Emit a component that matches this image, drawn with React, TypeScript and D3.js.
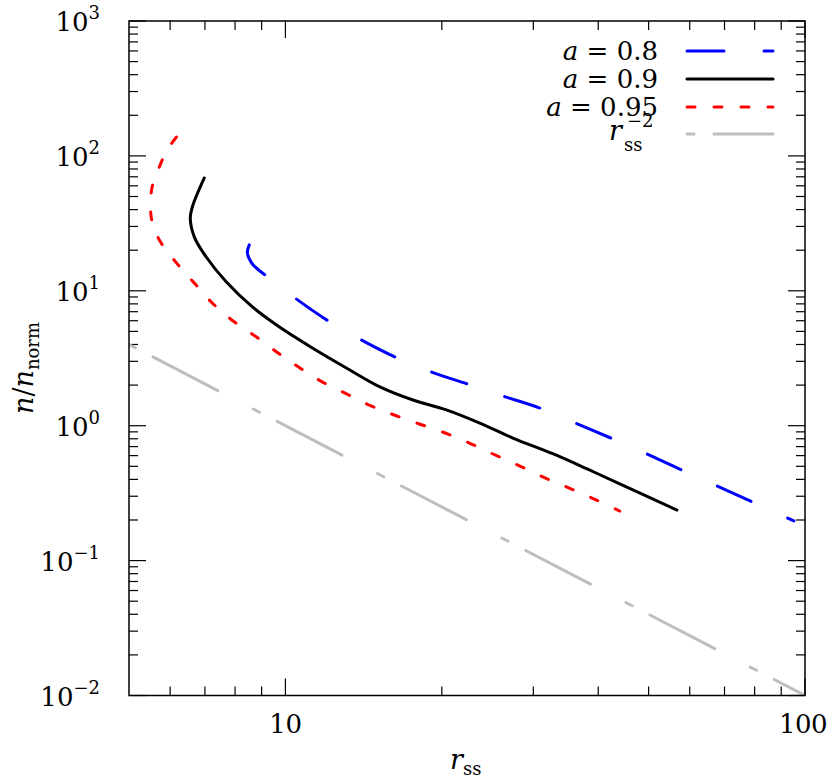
import * as d3 from "d3";
import React from "react";

// a = 0.8
const blueR = [8.52, 8.45, 8.64, 9.23, 10.5, 12.1, 14.0, 16.4, 19.1, 22.4, 26.2, 30.9, 36.1, 42.3, 49.2, 57.4, 67.1, 78.4, 95.2];
const blueN = [21.9, 19.1, 15.8, 12.7, 8.69, 5.97, 4.32, 3.18, 2.5, 2.04, 1.66, 1.35, 1.05, 0.81, 0.627, 0.477, 0.363, 0.277, 0.197];

// a = 0.9
const blackR = [6.98, 6.62, 6.56, 6.68, 7.04, 7.7, 8.64, 9.74, 11.27, 13.1, 15.2, 17.6, 20.4, 23.6, 27.4, 32.7, 38.0, 44.0, 56.7];
const blackN = [68.6, 41.8, 34.6, 25.0, 17.8, 11.6, 7.59, 5.39, 3.77, 2.68, 1.94, 1.55, 1.31, 1.05, 0.81, 0.62, 0.48, 0.37, 0.237];

// a = 0.95
const redR = [6.17, 5.92, 5.72, 5.54, 5.5, 5.54, 5.72, 6.17, 6.68, 7.23, 7.98, 8.8, 9.74, 10.6, 11.7, 13.0, 14.5, 16.2, 18.1, 20.3, 22.6, 25.1, 28.0, 31.3, 34.8, 38.9, 44.0];
const redN = [138, 110.6, 82.8, 58.8, 41.8, 32.4, 23.8, 16.1, 11.4, 8.12, 5.87, 4.54, 3.4, 2.72, 2.14, 1.75, 1.42, 1.2, 1.03, 0.883, 0.744, 0.617, 0.511, 0.417, 0.351, 0.291, 0.233];

// r_ss^-2 reference line
const grayR = [5, 100];
const grayN = [4, 0.01];

const xMajor = [10, 100];
const xMinor = [6, 7, 8, 9, 20, 30, 40, 50, 60, 70, 80, 90];
const yExponents = [-2, -1, 0, 1, 2, 3];

const width = 830;
const height = 779;
const marginLeft = 129;
const marginRight = 25;
const marginTop = 21;
const marginBottom = 83.5;

const font = "DejaVu Serif";

export default function App() {
  const x = d3.scaleLog().domain([5, 100]).range([marginLeft, width - marginRight]);
  const y = d3.scaleLog().domain([0.01, 1000]).range([height - marginBottom, marginTop]);
  const [x0, x1] = x.range();
  const [y0, y1] = y.range();

  const line = d3
    .line<[number, number]>()
    .x((d) => x(d[0]))
    .y((d) => y(d[1]))
    .curve(d3.curveCatmullRom.alpha(0.5));

  const zip = (rs: number[], ns: number[]) => rs.map((r, i) => [r, ns[i]] as [number, number]);

  const series = [
    { label: "0.8", r: blueR, n: blueN, color: "#0000ff", dash: "37,40" },
    { label: "0.9", r: blackR, n: blackN, color: "#000000", dash: undefined },
    { label: "0.95", r: redR, n: redN, color: "#ff0000", dash: "8,19" },
  ];
  const grayDash = "7,20,73,40";

  const yMinor: number[] = [];
  for (let e = -2; e < 3; e++) {
    for (let k = 2; k <= 9; k++) yMinor.push(k * Math.pow(10, e));
  }

  const supStr = (e: number) => (e < 0 ? "\u2212" + Math.abs(e) : String(e));

  const legendRows = [51, 79, 107, 134];
  const legX0 = 687;
  const legX1 = 773;

  return (
    <svg width={width} height={height} style={{ position: "absolute", left: 0, top: 0, background: "#fff" }}>
      <defs>
        <clipPath id="plotclip">
          <rect x={x0} y={y1} width={x1 - x0} height={y0 - y1} />
        </clipPath>
      </defs>

      {/* ticks */}
      <g stroke="#000" strokeWidth={1.2}>
        {xMajor.map((v) => (
          <g key={"xM" + v}>
            <line x1={x(v)} x2={x(v)} y1={y0} y2={y0 - 17} />
            <line x1={x(v)} x2={x(v)} y1={y1} y2={y1 + 17} />
          </g>
        ))}
        {xMinor.map((v) => (
          <g key={"xm" + v}>
            <line x1={x(v)} x2={x(v)} y1={y0} y2={y0 - 9} />
            <line x1={x(v)} x2={x(v)} y1={y1} y2={y1 + 9} />
          </g>
        ))}
        {yExponents.map((e) => (
          <g key={"yM" + e}>
            <line x1={x0} x2={x0 + 17} y1={y(Math.pow(10, e))} y2={y(Math.pow(10, e))} />
            <line x1={x1} x2={x1 - 17} y1={y(Math.pow(10, e))} y2={y(Math.pow(10, e))} />
          </g>
        ))}
        {yMinor.map((v, i) => (
          <g key={"ym" + i}>
            <line x1={x0} x2={x0 + 9} y1={y(v)} y2={y(v)} />
            <line x1={x1} x2={x1 - 9} y1={y(v)} y2={y(v)} />
          </g>
        ))}
      </g>

      {/* data */}
      <g clipPath="url(#plotclip)" fill="none" strokeWidth={3} strokeLinecap="round" strokeLinejoin="round">
        <path d={line(zip(grayR, grayN)) || ""} stroke="#bebebe" strokeDasharray={grayDash} />
        {series.map((s) => (
          <path key={s.label} d={line(zip(s.r, s.n)) || ""} stroke={s.color} strokeDasharray={s.dash} />
        ))}
      </g>

      {/* frame */}
      <rect x={x0} y={y1} width={x1 - x0} height={y0 - y1} fill="none" stroke="#000" strokeWidth={1.5} />

      {/* tick labels */}
      <g fontFamily={font} fontSize={26} fill="#000">
        {xMajor.map((v) => (
          <text key={"xl" + v} x={x(v) - (v === 100 ? 2 : 0)} y={733} textAnchor="middle" letterSpacing={-0.5}>
            {v}
          </text>
        ))}
        {yExponents.map((e) => (
          <text key={"yl" + e} x={100} y={y(Math.pow(10, e)) + 10} textAnchor="end">
            <tspan>10</tspan>
            <tspan dy={-12} fontSize={18}>
              {supStr(e)}
            </tspan>
          </text>
        ))}
      </g>

      {/* axis titles */}
      <g fontFamily={font} fill="#000">
        <text x={450} y={769} fontSize={27}>
          <tspan fontStyle="italic">r</tspan>
          <tspan dy={6} fontSize={18}>ss</tspan>
        </text>
        <text transform="translate(33,414) rotate(-90)" fontSize={27}>
          <tspan fontStyle="italic">n</tspan>
          <tspan>/</tspan>
          <tspan fontStyle="italic">n</tspan>
          <tspan dy={6} fontSize={18}>norm</tspan>
        </text>
      </g>

      {/* legend */}
      <g fontFamily={font} fontSize={26} fill="#000">
        {series.map((s, i) => (
          <g key={"leg" + s.label}>
            <text x={658} y={legendRows[i] + 9} textAnchor="end">
              <tspan fontStyle="italic">a</tspan>
              <tspan> = {s.label}</tspan>
            </text>
            <line
              x1={legX0}
              x2={legX1}
              y1={legendRows[i]}
              y2={legendRows[i]}
              stroke={s.color}
              strokeWidth={3}
              strokeLinecap="round"
              strokeDasharray={s.dash}
            />
          </g>
        ))}
        <text x={609} y={140} fontStyle="italic" fontSize={27}>r</text>
        <text x={624} y={151} fontSize={18}>ss</text>
        <text x={627} y={127} fontSize={18}>{"\u22122"}</text>
        <line
          x1={legX0}
          x2={legX1}
          y1={legendRows[3]}
          y2={legendRows[3]}
          stroke="#bebebe"
          strokeWidth={3}
          strokeLinecap="round"
          strokeDasharray={grayDash}
        />
      </g>
    </svg>
  );
}
